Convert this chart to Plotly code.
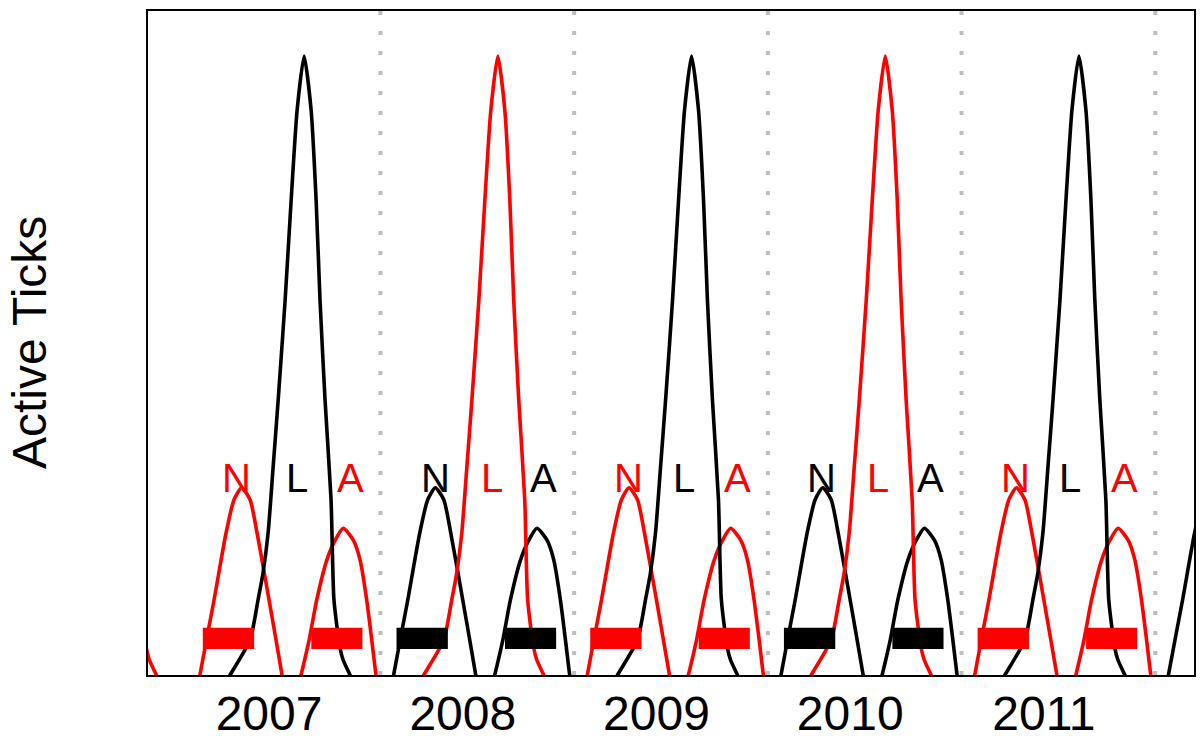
import plotly.graph_objects as go

# ---------------- data ----------------
years = [2007, 2008, 2009, 2010, 2011]
year_labels = ["2007", "2008", "2009", "2010", "2011"]
season_breaks = [2008, 2009, 2010, 2011, 2012]

# seasonal activity curve of each stage: time within year (fraction) and activity
larva_t = [0.150, 0.224, 0.327, 0.368, 0.394, 0.420, 0.446, 0.472, 0.508, 0.539, 0.570,
           0.606, 0.642, 0.668, 0.688, 0.714, 0.745, 0.760, 0.791, 0.807, 0.843, 0.903]
larva_v = [-3.8, 0.0, 5.3, 11.3, 15.4, 21.4, 31.3, 41.4, 56.5, 71.5, 85.1,
           93.2, 85.1, 71.5, 56.5, 41.4, 26.4, 11.3, 4.1, 2.3, 0.0, -3.8]
nymph_t = [0.048, 0.068, 0.141, 0.203, 0.244, 0.283, 0.327, 0.363, 0.425, 0.492, 0.513]
nymph_v = [-3.8, 0.0, 11.3, 21.4, 26.4, 28.2, 26.4, 21.4, 11.3, 0.0, -3.8]
adult_t = [0.557, 0.590, 0.632, 0.671, 0.723, 0.766, 0.808, 0.860, 0.895, 0.929, 0.955, 0.977, 0.998]
adult_v = [-3.8, 0.0, 5.3, 11.3, 17.3, 20.3, 22.1, 20.3, 17.3, 11.3, 5.3, 0.0, -3.8]

# which years each stage is drawn in, and the cohort colour
larva_years = [2006, 2007, 2008, 2009, 2010, 2011]
larva_colors = ["red", "black", "red", "black", "red", "black"]
nymph_years = [2007, 2008, 2009, 2010, 2011, 2012]
nymph_colors = ["red", "black", "red", "black", "red", "black"]
adult_years = [2007, 2008, 2009, 2010, 2011]
adult_colors = ["red", "black", "red", "black", "red"]

# stage letters above the peaks
label_N_t = [0.258, 0.282, 0.278, 0.276, 0.276]
label_L_t = [0.568, 0.574, 0.565, 0.569, 0.562]
label_A_t = [0.843, 0.841, 0.842, 0.842, 0.842]
label_level = 29.7

# activity windows (bars)
nymph_bar = [0.083, 0.348]
adult_bar = [0.643, 0.907]
bar_low, bar_high = 3.9, 7.1

# ---------------- figure ----------------
fig = go.Figure()

def add_curve(year, ts, vs, color):
    fig.add_trace(go.Scatter(
        x=[year + t for t in ts], y=vs, mode="lines",
        line=dict(color=color, width=3.6, shape="spline", smoothing=0.6),
        hoverinfo="skip", showlegend=False))

for y, c in zip(nymph_years, nymph_colors):
    add_curve(y, nymph_t, nymph_v, c)
for y, c in zip(adult_years, adult_colors):
    add_curve(y, adult_t, adult_v, c)
for y, c in zip(larva_years, larva_colors):
    add_curve(y, larva_t, larva_v, c)

shapes = []
for b in season_breaks:
    shapes.append(dict(type="line", xref="x", yref="y", x0=b, x1=b, y0=0, y1=100,
                       line=dict(color="#BEBEBE", width=4, dash="4px,16px"), layer="below"))

for i, y in enumerate(years):
    for (t0, t1), c in ((nymph_bar, nymph_colors[i]), (adult_bar, adult_colors[i])):
        shapes.append(dict(type="rect", xref="x", yref="y", x0=y + t0, x1=y + t1,
                           y0=bar_low, y1=bar_high, fillcolor=c, line=dict(width=0),
                           layer="above"))

annotations = []
font_l = "Liberation Sans, Arial, Helvetica, sans-serif"
for i, y in enumerate(years):
    for t, txt, c in ((label_N_t[i], "N", nymph_colors[i]),
                      (label_L_t[i], "L", larva_colors[i + 1]),
                      (label_A_t[i], "A", adult_colors[i])):
        annotations.append(dict(x=y + t, y=label_level, xref="x", yref="y", text=txt,
                                showarrow=False, xanchor="center", yanchor="middle",
                                font=dict(family=font_l, size=40, color=c)))

annotations.append(dict(x=-0.1137, y=0.5, xref="paper", yref="paper", text="Active Ticks",
                        textangle=-90, showarrow=False, xanchor="center", yanchor="middle",
                        font=dict(family=font_l, size=48, color="black")))

fig.update_layout(
    width=1200, height=739,
    margin=dict(l=148, r=6, t=11, b=64),
    paper_bgcolor="white", plot_bgcolor="white",
    shapes=shapes, annotations=annotations,
    xaxis=dict(range=[2006.8, 2012.2], showgrid=False, zeroline=False, automargin=False,
               showline=True, mirror=True, linecolor="black", linewidth=2,
               ticks="", tickvals=[y + 0.425 for y in years], ticktext=year_labels,
               ticklabelstandoff=-5,
               tickfont=dict(family=font_l, size=48, color="black")),
    yaxis=dict(range=[0, 100], showgrid=False, zeroline=False, automargin=False,
               showline=True, mirror=True, linecolor="black", linewidth=2,
               ticks="", showticklabels=False),
)

fig.write_html("out.html", config={"displayModeBar": False},
               post_script="document.body.style.margin='0';document.body.style.overflow='hidden';")
